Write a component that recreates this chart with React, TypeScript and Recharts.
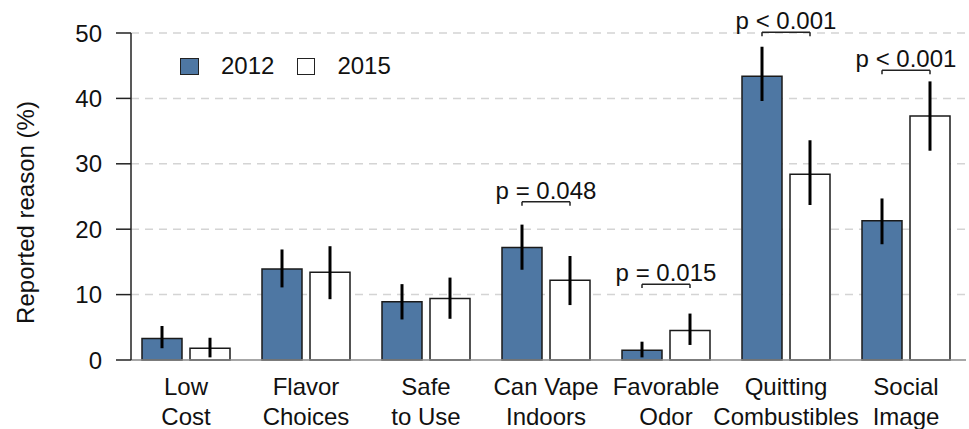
import {
  BarChart, Bar, XAxis, YAxis, CartesianGrid, ErrorBar, ReferenceLine,
} from 'recharts'

const FONT = '"Liberation Sans", Arial, Helvetica, sans-serif'
const BLUE = '#4e77a3'

const categories = [
  'Low\nCost', 'Flavor\nChoices', 'Safe\nto Use', 'Can Vape\nIndoors',
  'Favorable\nOdor', 'Quitting\nCombustibles', 'Social\nImage',
]
const values2012 = [3.3, 13.9, 8.9, 17.2, 1.5, 43.4, 21.3]
const low2012 = [1.8, 11.1, 6.2, 13.8, 0.4, 39.6, 17.7]
const high2012 = [5.2, 16.9, 11.6, 20.7, 2.8, 47.9, 24.7]
const values2015 = [1.8, 13.4, 9.4, 12.2, 4.5, 28.4, 37.3]
const low2015 = [0.4, 9.3, 6.3, 8.4, 2.3, 23.7, 32.0]
const high2015 = [3.4, 17.4, 12.6, 15.9, 7.1, 33.6, 42.6]
const yTicks = [0, 10, 20, 30, 40, 50]

// significance brackets: category index, bracket height, label
const bracketIndex = [3, 4, 5, 6]
const bracketY = [24.2, 11.6, 50.1, 44.3]
const bracketText = ['p = 0.048', 'p = 0.015', 'p < 0.001', 'p < 0.001']

const data = categories.map((name, i) => ({
  name,
  pos: i,
  v2012: values2012[i],
  v2015: values2015[i],
  e2012: [values2012[i] - low2012[i], high2012[i] - values2012[i]],
  e2015: [values2015[i] - low2015[i], high2015[i] - values2015[i]],
}))

const XTick = ({ x, y, payload }: any) => {
  const lines = String(payload.value).split('\n')
  return (
    <g>
      {lines.map((l, k) => (
        <text key={k} x={x} y={y + 33 + k * 30} textAnchor="middle"
          fill="#111" fontSize={24} fontFamily={FONT}>{l}</text>
      ))}
    </g>
  )
}

const LegendBox = () => (
  <div style={{
    position: 'absolute', left: 180, top: 53, display: 'flex', alignItems: 'center',
    fontFamily: FONT, fontSize: 24, color: '#111', lineHeight: '26px',
  }}>
    <span style={{ width: 17, height: 15, background: BLUE, border: '1.5px solid #222', display: 'inline-block' }} />
    <span style={{ marginLeft: 22 }}>2012</span>
    <span style={{ width: 16, height: 15, background: '#fff', border: '1.5px solid #222', display: 'inline-block', marginLeft: 23 }} />
    <span style={{ marginLeft: 22 }}>2015</span>
  </div>
)

const YLabel = ({ viewBox }: any) => {
  const cy = viewBox.y + viewBox.height / 2 + 16
  return (
    <text x={34} y={cy} transform={`rotate(-90, 34, ${cy})`} textAnchor="middle"
      fill="#111" fontSize={24} fontFamily={FONT}>Reported reason (%)</text>
  )
}

export default function App() {
  return (
    <div style={{ position: 'absolute', left: 0, top: 0, width: 969, height: 429, background: '#fff' }}>
      <BarChart width={969} height={429} data={data}
        margin={{ top: 33, right: 3, left: 0, bottom: 0 }}
        barSize={40} barGap={8}>
        <CartesianGrid vertical={false} horizontalValues={[10, 20, 30, 40, 50]}
          stroke="#d4d4d4" strokeWidth={1.5} strokeDasharray="8 6" />
        <XAxis dataKey="name" padding={{ left: -5, right: 0 }} tick={<XTick />} tickLine={false} tickSize={0}
          interval={0} height={69} axisLine={{ stroke: '#8a8a8a', strokeWidth: 1.5 }} />
        {/* numeric twin of the category axis: integer = category centre, +-0.2 = bar centre */}
        <XAxis xAxisId="num" dataKey="pos" type="number" domain={[0, 6]} allowDataOverflow
          padding={{ left: 55, right: 60 }} hide />
        <YAxis domain={[0, 50]} ticks={yTicks} width={131} tickSize={15} tickMargin={14}
          axisLine={{ stroke: '#222', strokeWidth: 1.5 }}
          tickLine={{ stroke: '#222', strokeWidth: 1.5 }}
          tick={{ fill: '#111', fontSize: 24, fontFamily: FONT }}
          label={<YLabel />} />
        <Bar dataKey="v2012" name="2012" fill={BLUE} stroke="#1a1a1a" strokeWidth={1.5} isAnimationActive={false}>
          <ErrorBar dataKey="e2012" width={0} stroke="#000" strokeWidth={3} />
        </Bar>
        <Bar dataKey="v2015" name="2015" fill="#fff" stroke="#1a1a1a" strokeWidth={1.5} isAnimationActive={false}>
          <ErrorBar dataKey="e2015" width={0} stroke="#000" strokeWidth={3} />
        </Bar>
        {bracketIndex.map((ci, k) => {
          const xa = ci - 0.2
          const xb = ci + 0.2
          const y = bracketY[k]
          return [
            <ReferenceLine key={`h${k}`} xAxisId="num" ifOverflow="visible"
              segment={[{ x: xa, y }, { x: xb, y }]} stroke="#222" strokeWidth={1.5}
              label={{ value: bracketText[k], position: 'top', offset: 3, fontSize: 24, fill: '#111', fontFamily: FONT }} />,
            <ReferenceLine key={`a${k}`} xAxisId="num" ifOverflow="visible"
              segment={[{ x: xa, y }, { x: xa, y: y - 0.6 }]} stroke="#222" strokeWidth={1.5} />,
            <ReferenceLine key={`b${k}`} xAxisId="num" ifOverflow="visible"
              segment={[{ x: xb, y }, { x: xb, y: y - 0.6 }]} stroke="#222" strokeWidth={1.5} />,
          ]
        })}
      </BarChart>
      <LegendBox />
    </div>
  )
}
